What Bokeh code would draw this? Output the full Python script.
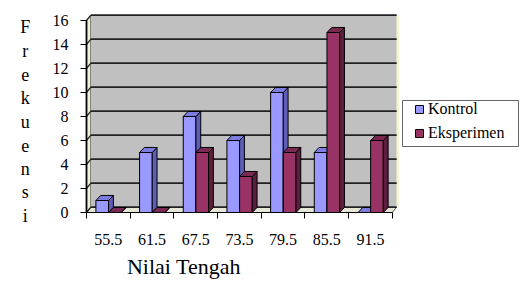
from bokeh.plotting import figure
from bokeh.models import Range1d, FixedTicker, Legend, LegendItem, Label, LinearAxis, BoxAnnotation
from bokeh.embed import file_html
from bokeh.resources import INLINE

categories = ["55.5", "61.5", "67.5", "73.5", "79.5", "85.5", "91.5"]
kontrol = [1, 5, 8, 6, 10, 5, 0]
eksperimen = [0, 0, 5, 3, 5, 15, 6]
y_ticks = [0, 2, 4, 6, 8, 10, 12, 14, 16]
series_names = ["Kontrol", "Eksperimen"]
y_label = "Frekuensi"
x_label = "Nilai Tengah"

FONT = "Liberation Serif"
n = len(categories)
YMAX = y_ticks[-1]
WALL_DX, WALL_DY = 0.1, 0.45
BAR_DX, BAR_DY = 0.11, 0.42
BAR_W = 0.29
W, H = 524, 281
PX_X, PX_Y = 43.68, 12.0       # pixels per category / per unit
X0_PX, Y0_PX = 86, 212         # where the origin sits in the canvas

p = figure(width=W, height=H,
           x_range=Range1d(-X0_PX / PX_X, (W - X0_PX) / PX_X),
           y_range=Range1d(-(H - Y0_PX) / PX_Y, Y0_PX / PX_Y),
           output_backend="svg", toolbar_location=None,
           x_axis_location=None, y_axis_location=None,
           min_border=0, min_border_left=0, min_border_right=0, min_border_top=0, min_border_bottom=0)
p.outline_line_color = None
p.grid.visible = False
p.background_fill_color = "white"
p.border_fill_color = "white"

# floor, side wall, back wall
p.patch([0, n, n + WALL_DX, WALL_DX], [0, 0, WALL_DY, WALL_DY],
        fill_color="#E6E6D6", line_color="#555555", line_width=1)
p.patch([0, 0, WALL_DX, WALL_DX], [0, YMAX, YMAX + WALL_DY, WALL_DY],
        fill_color="#F2F2D8", line_color="#333333", line_width=1)
p.patch([WALL_DX, n + WALL_DX, n + WALL_DX, WALL_DX], [WALL_DY, WALL_DY, YMAX + WALL_DY, YMAX + WALL_DY],
        fill_color="#C0C0C0", line_color=None)
p.line([n + WALL_DX + 0.03, n + WALL_DX + 0.03], [WALL_DY, YMAX + WALL_DY], line_color="#F5F5C8", line_width=2)

# gridlines
for t in y_ticks:
    p.line([WALL_DX, n + WALL_DX], [t + WALL_DY, t + WALL_DY], line_color="#222222", line_width=1.6)
    p.line([0, WALL_DX], [t, t + WALL_DY], line_color="#222222", line_width=1.2)


def bar_faces(values, offset):
    fx, fy, sx, sy, tx, ty = [], [], [], [], [], []
    for i, v in enumerate(values):
        x0 = i + offset
        x1 = x0 + BAR_W
        fx.append([x0, x1, x1, x0]); fy.append([0, 0, v, v])
        sx.append([x1, x1 + BAR_DX, x1 + BAR_DX, x1]); sy.append([0, BAR_DY, v + BAR_DY, v])
        tx.append([x0, x1, x1 + BAR_DX, x0 + BAR_DX]); ty.append([v, v, v + BAR_DY, v + BAR_DY])
    return fx, fy, sx, sy, tx, ty


styles = [
    (kontrol, 0.215, "#9999FF", "#5E5EB8", "#7C7CE0"),
    (eksperimen, 0.505, "#993366", "#5C1E3E", "#7A2A52"),
]
front_renderers = []
for vals, off, front, side, top in styles:
    fx, fy, sx, sy, tx, ty = bar_faces(vals, off)
    front_renderers.append(p.patches(fx, fy, fill_color=front, line_color="black", line_width=1))
    p.patches(sx, sy, fill_color=side, line_color="black", line_width=1)
    p.patches(tx, ty, fill_color=top, line_color="black", line_width=1)

# axes at fixed locations
ya = LinearAxis(fixed_location=0, bounds=(0, YMAX), ticker=FixedTicker(ticks=y_ticks))
ya.axis_line_color = "black"
ya.axis_line_width = 1.8
ya.major_tick_out = 6
ya.major_tick_in = 0
ya.minor_tick_out = 0
ya.minor_tick_in = 0
ya.major_tick_line_color = "black"
ya.major_label_standoff = 12
ya.major_label_text_font = FONT
ya.major_label_text_font_size = "16px"
ya.major_label_text_color = "black"
p.add_layout(ya, "left")

xa = LinearAxis(fixed_location=0, bounds=(0, n),
                ticker=FixedTicker(ticks=[i + 0.5 for i in range(n)], minor_ticks=list(range(n + 1))))
xa.axis_line_color = "black"
xa.axis_line_width = 1.2
xa.major_tick_out = 0
xa.major_tick_in = 0
xa.minor_tick_out = 6
xa.minor_tick_in = 0
xa.minor_tick_line_color = "black"
xa.major_label_overrides = {i + 0.5: c for i, c in enumerate(categories)}
xa.major_label_standoff = 15
xa.major_label_text_font = FONT
xa.major_label_text_font_size = "16px"
xa.major_label_text_color = "black"
p.add_layout(xa, "below")

# legend box + legend
p.add_layout(BoxAnnotation(left=(402 - X0_PX) / PX_X, right=(518 - X0_PX) / PX_X,
                           top=(Y0_PX - 100) / PX_Y, bottom=(Y0_PX - 146) / PX_Y,
                           fill_color="white", fill_alpha=1, line_color="#666666", line_width=1,
                           line_alpha=1))
legend = Legend(items=[LegendItem(label=series_names[0], renderers=[front_renderers[0]]),
                       LegendItem(label=series_names[1], renderers=[front_renderers[1]])],
                location=(414, H - 142), padding=0, spacing=6, glyph_width=10, glyph_height=10,
                label_height=16, label_standoff=4, margin=0,
                label_text_font=FONT, label_text_font_size="16px", label_text_color="black",
                border_line_color=None, background_fill_alpha=0)
p.add_layout(legend, "center")

# axis titles
for i, ch in enumerate(y_label):
    p.add_layout(Label(x=-1.4, y=15.42 - i * 1.96, text=ch, text_font=FONT, text_font_size="18px",
                       text_align="center", text_baseline="middle", text_color="black"))
p.add_layout(Label(x=2.23, y=-5.5, text=x_label, text_font=FONT, text_font_size="22px",
                   text_align="center", text_baseline="bottom", text_color="black"))

open("out.html", "w").write(file_html(p, INLINE))
